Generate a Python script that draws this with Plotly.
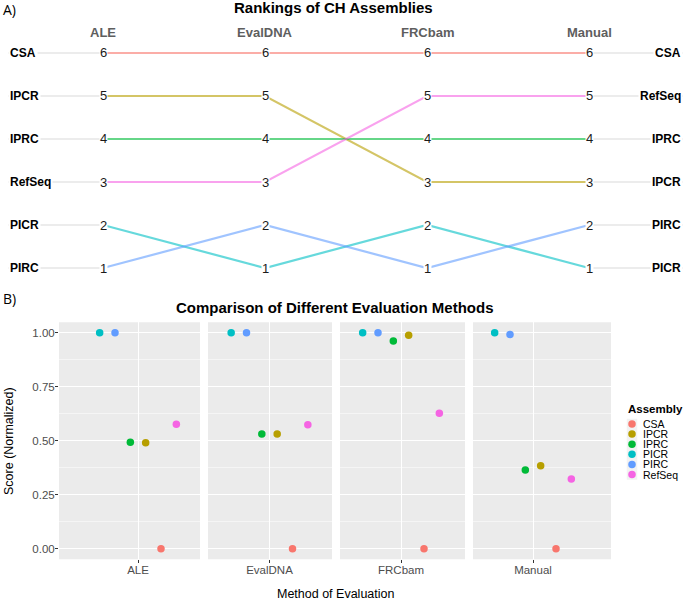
import plotly.graph_objects as go

# ---------------- data ----------------
methods = ["ALE", "EvalDNA", "FRCbam", "Manual"]
assemblies = ["CSA", "IPCR", "IPRC", "PICR", "PIRC", "RefSeq"]
colors = ["#F8766D", "#B79F00", "#00BA38", "#00BFC4", "#619CFF", "#F564E3"]

# ranks (ALE, EvalDNA, FRCbam, Manual)
rank_CSA = [6, 6, 6, 6]
rank_IPCR = [5, 5, 3, 3]
rank_IPRC = [4, 4, 4, 4]
rank_PICR = [2, 1, 2, 1]
rank_PIRC = [1, 2, 1, 2]
rank_RefSeq = [3, 3, 5, 5]

# normalized scores (CSA, IPCR, IPRC, PICR, PIRC, RefSeq)
score_ALE = [0.00, 0.49, 0.493, 1.00, 1.00, 0.576]
score_EvalDNA = [0.00, 0.531, 0.531, 1.00, 1.00, 0.574]
score_FRCbam = [0.00, 0.988, 0.962, 1.00, 1.00, 0.627]
score_Manual = [0.00, 0.384, 0.364, 1.00, 0.992, 0.323]

# order in which points are dodged inside a facet
dodge_order = ["PICR", "PIRC", "IPRC", "IPCR", "CSA", "RefSeq"]

ranks = {"CSA": rank_CSA, "IPCR": rank_IPCR, "IPRC": rank_IPRC,
         "PICR": rank_PICR, "PIRC": rank_PIRC, "RefSeq": rank_RefSeq}
scores = {"ALE": score_ALE, "EvalDNA": score_EvalDNA,
          "FRCbam": score_FRCbam, "Manual": score_Manual}

W, H = 685, 601
FONT = "Liberation Sans, Arial, sans-serif"


def px_x(p):
    return p / W


def px_y(p):
    return 1 - p / H


def rgba(hexc, a):
    h = hexc.lstrip("#")
    return "rgba(%d,%d,%d,%.2f)" % (int(h[0:2], 16), int(h[2:4], 16), int(h[4:6], 16), a)


def ann(**kw):
    d = dict(showarrow=False, xanchor="center", yanchor="middle")
    d.update(kw)
    return d


fig = go.Figure()
annotations = []
shapes = []

# ---------------- panel A: rankings ----------------
n_m = len(methods)
xcols = list(range(n_m))
left_x, right_x = -0.586, 3.58

# grey guide lines left and right
for r in range(1, 7):
    fig.add_trace(go.Scatter(x=[left_x, 0], y=[r, r], mode="lines",
                             line=dict(color="#D9D9D9", width=1),
                             xaxis="x", yaxis="y", showlegend=False, hoverinfo="skip"))
    fig.add_trace(go.Scatter(x=[n_m - 1, right_x], y=[r, r], mode="lines",
                             line=dict(color="#D9D9D9", width=1),
                             xaxis="x", yaxis="y", showlegend=False, hoverinfo="skip"))

for a, c in zip(assemblies, colors):
    fig.add_trace(go.Scatter(x=xcols, y=ranks[a], mode="lines",
                             line=dict(color=rgba(c, 0.6), width=2.2),
                             xaxis="x", yaxis="y", showlegend=False, hoverinfo="skip"))

for a in assemblies:
    for i, r in enumerate(ranks[a]):
        annotations.append(ann(x=i, y=r, xref="x", yref="y", text=str(r),
                               bgcolor="white", borderpad=0,
                               font=dict(family=FONT, size=13, color="#1A1A1A")))
    annotations.append(ann(x=left_x, y=ranks[a][0], xref="x", yref="y", text="<b>%s</b>" % a,
                           xanchor="left", bgcolor="white", borderpad=1,
                           font=dict(family=FONT, size=12, color="#000000")))
    annotations.append(ann(x=right_x, y=ranks[a][-1], xref="x", yref="y", text="<b>%s</b>" % a,
                           xanchor="right", bgcolor="white", borderpad=1,
                           font=dict(family=FONT, size=12, color="#000000")))

for i, m in enumerate(methods):
    annotations.append(ann(x=i, y=6.465, xref="x", yref="y", text="<b>%s</b>" % m,
                           font=dict(family=FONT, size=13, color="#5E5E5E")))

annotations.append(ann(x=px_x(333), y=px_y(8), xref="paper", yref="paper",
                       text="<b>Rankings of CH Assemblies</b>",
                       font=dict(family=FONT, size=15, color="#000000")))
annotations.append(ann(x=px_x(1), y=px_y(10), xref="paper", yref="paper", xanchor="left",
                       text="A)",
                       font=dict(family="Open Sans, DejaVu Sans, sans-serif", size=14, color="#000000")))

layout_axes = {}
layout_axes["xaxis"] = dict(domain=[0, 1], range=[-103 / 162, (685 - 103) / 162],
                            visible=False, fixedrange=True)
layout_axes["yaxis"] = dict(domain=[px_y(285), px_y(25)], range=[0.605, 6.651],
                            visible=False, fixedrange=True)

# ---------------- panel B: facets ----------------
panel_px = [(59, 200, 138), (208, 332, 269.5), (340, 465, 401), (473, 611, 533)]
ppu = 115.0  # pixels per category unit
y_top_px, y_bot_px = 322.3, 559.3
ydom = [px_y(y_bot_px), px_y(y_top_px)]
n_a = len(assemblies)
for k, m in enumerate(methods):
    ax = k + 2
    xa, ya = "x%d" % ax, "y%d" % ax
    l, r, c = panel_px[k]
    layout_axes["xaxis%d" % ax] = dict(
        domain=[px_x(l), px_x(r)], range=[(l - c) / ppu, (r - c) / ppu],
        tickvals=[0], ticktext=[m], ticks="outside", ticklen=3, tickcolor="#333333",
        tickfont=dict(family=FONT, size=11.5, color="#4D4D4D"), ticklabelstandoff=-3,
        showgrid=True, gridcolor="white", gridwidth=1.1, zeroline=False,
        anchor=ya, fixedrange=True)
    layout_axes["yaxis%d" % ax] = dict(
        domain=ydom, range=[-0.049, 1.048], anchor=xa,
        tickvals=[0, 0.25, 0.5, 0.75, 1.0], tickformat=".2f",
        showticklabels=(k == 0), ticks="outside" if k == 0 else "", ticklen=3,
        ticklabelstandoff=-2,
        tickcolor="#333333", tickfont=dict(family=FONT, size=11.5, color="#4D4D4D"),
        showgrid=True, gridcolor="white", gridwidth=1.1, zeroline=False,
        minor=dict(tickvals=[0.125, 0.375, 0.625, 0.875], showgrid=True,
                   gridcolor="#F5F5F5", gridwidth=0.6, ticks=""),
        fixedrange=True)
    shapes.append(dict(type="rect", xref="%s domain" % xa, yref="%s domain" % ya,
                       x0=0, x1=1, y0=0, y1=1, fillcolor="#EBEBEB",
                       line=dict(width=0), layer="below"))
    vals = scores[m]
    for j, (a, col) in enumerate(zip(assemblies, colors)):
        slot = dodge_order.index(a)
        off = -0.4 + 0.8 * (2 * slot + 1) / (2 * n_a)
        fig.add_trace(go.Scatter(x=[off], y=[vals[j]], mode="markers",
                                 marker=dict(color=col, size=7.5),
                                 name=a, xaxis=xa, yaxis=ya, showlegend=False))

annotations.append(ann(x=px_x(335), y=px_y(307), xref="paper", yref="paper",
                       text="<b>Comparison of Different Evaluation Methods</b>",
                       font=dict(family=FONT, size=15, color="#000000")))
annotations.append(ann(x=px_x(1), y=px_y(298), xref="paper", yref="paper", xanchor="left",
                       text="B)",
                       font=dict(family="Open Sans, DejaVu Sans, sans-serif", size=14, color="#000000")))
annotations.append(ann(x=px_x(335), y=px_y(594), xref="paper", yref="paper",
                       text="Method of Evaluation",
                       font=dict(family=FONT, size=12.5, color="#000000")))
annotations.append(ann(x=px_x(9), y=px_y(441), xref="paper", yref="paper", textangle=-90,
                       text="Score (Normalized)",
                       font=dict(family=FONT, size=12.5, color="#000000")))

# ---------------- legend (drawn on its own hidden axis) ----------------
leg_idx = list(range(n_a))
leg_y0, leg_step = 424.0, 10.1
layout_axes["xaxis6"] = dict(domain=[px_x(620), px_x(685)], range=[620 - 632, 685 - 632],
                             visible=False, fixedrange=True, anchor="y6")
layout_axes["yaxis6"] = dict(domain=[px_y(485), px_y(415)],
                             range=[(485 - leg_y0) / leg_step, (415 - leg_y0) / leg_step],
                             visible=False, fixedrange=True, anchor="x6")
fig.add_trace(go.Scatter(x=[0] * n_a, y=leg_idx, mode="markers",
                         marker=dict(color="#F2F2F2", size=10.5, symbol="square"),
                         xaxis="x6", yaxis="y6", showlegend=False, hoverinfo="skip"))
fig.add_trace(go.Scatter(x=[0] * n_a, y=leg_idx, mode="markers",
                         marker=dict(color=colors, size=7.5),
                         xaxis="x6", yaxis="y6", showlegend=False, hoverinfo="skip"))
for i, a in enumerate(assemblies):
    annotations.append(ann(x=9, y=i, xref="x6", yref="y6", text=a, xanchor="left",
                           font=dict(family=FONT, size=10.5, color="#000000")))
annotations.append(ann(x=px_x(626), y=px_y(409), xref="paper", yref="paper", xanchor="left",
                       text="<b>Assembly</b>",
                       font=dict(family=FONT, size=11.5, color="#000000")))

fig.update_layout(
    width=W, height=H, margin=dict(l=0, r=0, t=0, b=0),
    paper_bgcolor="white", plot_bgcolor="white",
    showlegend=False, annotations=annotations, shapes=shapes,
    font=dict(family=FONT),
    **layout_axes,
)

fig.write_html("out.html", config={"displayModeBar": False},
               post_script="document.body.style.margin='0px';document.body.style.overflow='hidden';")
